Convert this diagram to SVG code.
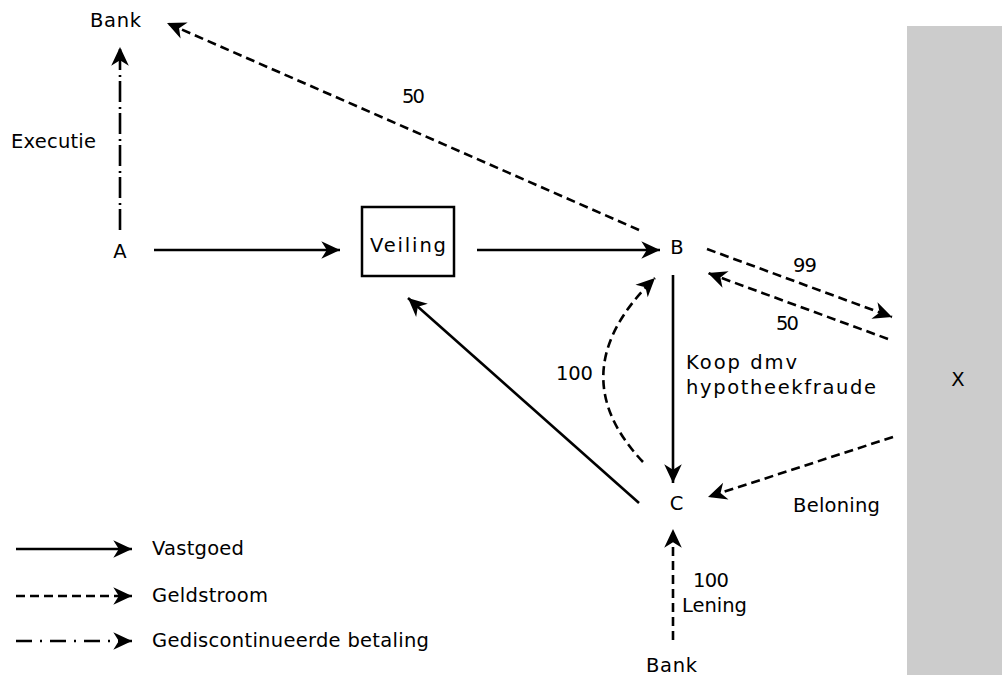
<svg xmlns="http://www.w3.org/2000/svg" width="1002" height="675" viewBox="0 0 1002 675">
<defs>
<marker id="ah" markerUnits="userSpaceOnUse" markerWidth="22" markerHeight="22" viewBox="-19 -10 20 20" refX="0" refY="0" orient="auto">
<path d="M0,0 L-17,-8 L-12,0 L-17,8 Z" fill="#000"/>
</marker>
<style>
text{font-family:"DejaVu Sans","Verdana",sans-serif;font-size:19.5px;fill:#000}
.c{text-anchor:middle}
.ln{fill:none;stroke:#000;stroke-width:2.6;marker-end:url(#ah)}
.dash{stroke-dasharray:9 5}
.dd{stroke-dasharray:21 4 2 5}
.ldd{stroke-dasharray:16 8 2 8}
</style>
</defs>
<rect x="0" y="0" width="1002" height="675" fill="#fff"/>
<g id="X">
<rect x="907" y="26" width="95" height="649" fill="#cccccc"/>
<text class="c" x="958" y="386">X</text>
</g>
<g id="bank-top"><text x="90" y="27" textLength="51" lengthAdjust="spacing">Bank</text></g>
<g id="A"><text class="c" x="120" y="258">A</text></g>
<g id="veiling">
<rect x="362" y="207" width="92" height="69" fill="none" stroke="#000" stroke-width="2.5"/>
<text x="370" y="252" textLength="76" lengthAdjust="spacing">Veiling</text>
</g>
<g id="B"><text class="c" x="677" y="254">B</text></g>
<g id="C"><text class="c" x="676.5" y="510">C</text></g>
<g id="bank-bottom"><text x="646" y="672" textLength="51" lengthAdjust="spacing">Bank</text></g>
<g id="connectors">
<path class="ln dd" d="M120,230 L120,47"/>
<path class="ln" d="M154,250 L340,250"/>
<path class="ln" d="M477,250 L660,250"/>
<path class="ln dash" d="M639,230 L167,23"/>
<path class="ln" d="M673,275 L673,483"/>
<path class="ln dash" d="M707,249 L892,317"/>
<path class="ln dash" d="M888,339 L708,273"/>
<path class="ln dash" d="M643,462 Q558,372 655,278"/>
<path class="ln" d="M639,503 L408,298"/>
<path class="ln dash" d="M893,437 L708,497"/>
<path class="ln dash" d="M673,640 L673,529"/>
</g>
<g id="labels">
<text x="11" y="148" textLength="85" lengthAdjust="spacing">Executie</text>
<text x="402" y="103" textLength="23" lengthAdjust="spacing">50</text>
<text x="793" y="272" textLength="24" lengthAdjust="spacing">99</text>
<text x="776" y="330" textLength="23" lengthAdjust="spacing">50</text>
<text x="556" y="380" textLength="37" lengthAdjust="spacing">100</text>
<text x="686" y="369" textLength="111" lengthAdjust="spacing">Koop dmv</text>
<text x="686" y="394" textLength="190" lengthAdjust="spacing">hypotheekfraude</text>
<text x="793" y="512" textLength="87" lengthAdjust="spacing">Beloning</text>
<text x="693" y="587" textLength="36" lengthAdjust="spacing">100</text>
<text x="682" y="612" textLength="65" lengthAdjust="spacing">Lening</text>
</g>
<g id="legend">
<path class="ln" d="M16,549 L132,549"/>
<path class="ln dash" d="M16,596 L132,596"/>
<path class="ln ldd" d="M16,641 L132,641"/>
<text x="152" y="555" textLength="92" lengthAdjust="spacing">Vastgoed</text>
<text x="152" y="602" textLength="116" lengthAdjust="spacing">Geldstroom</text>
<text x="152" y="647" textLength="277" lengthAdjust="spacing">Gediscontinueerde betaling</text>
</g>
</svg>
